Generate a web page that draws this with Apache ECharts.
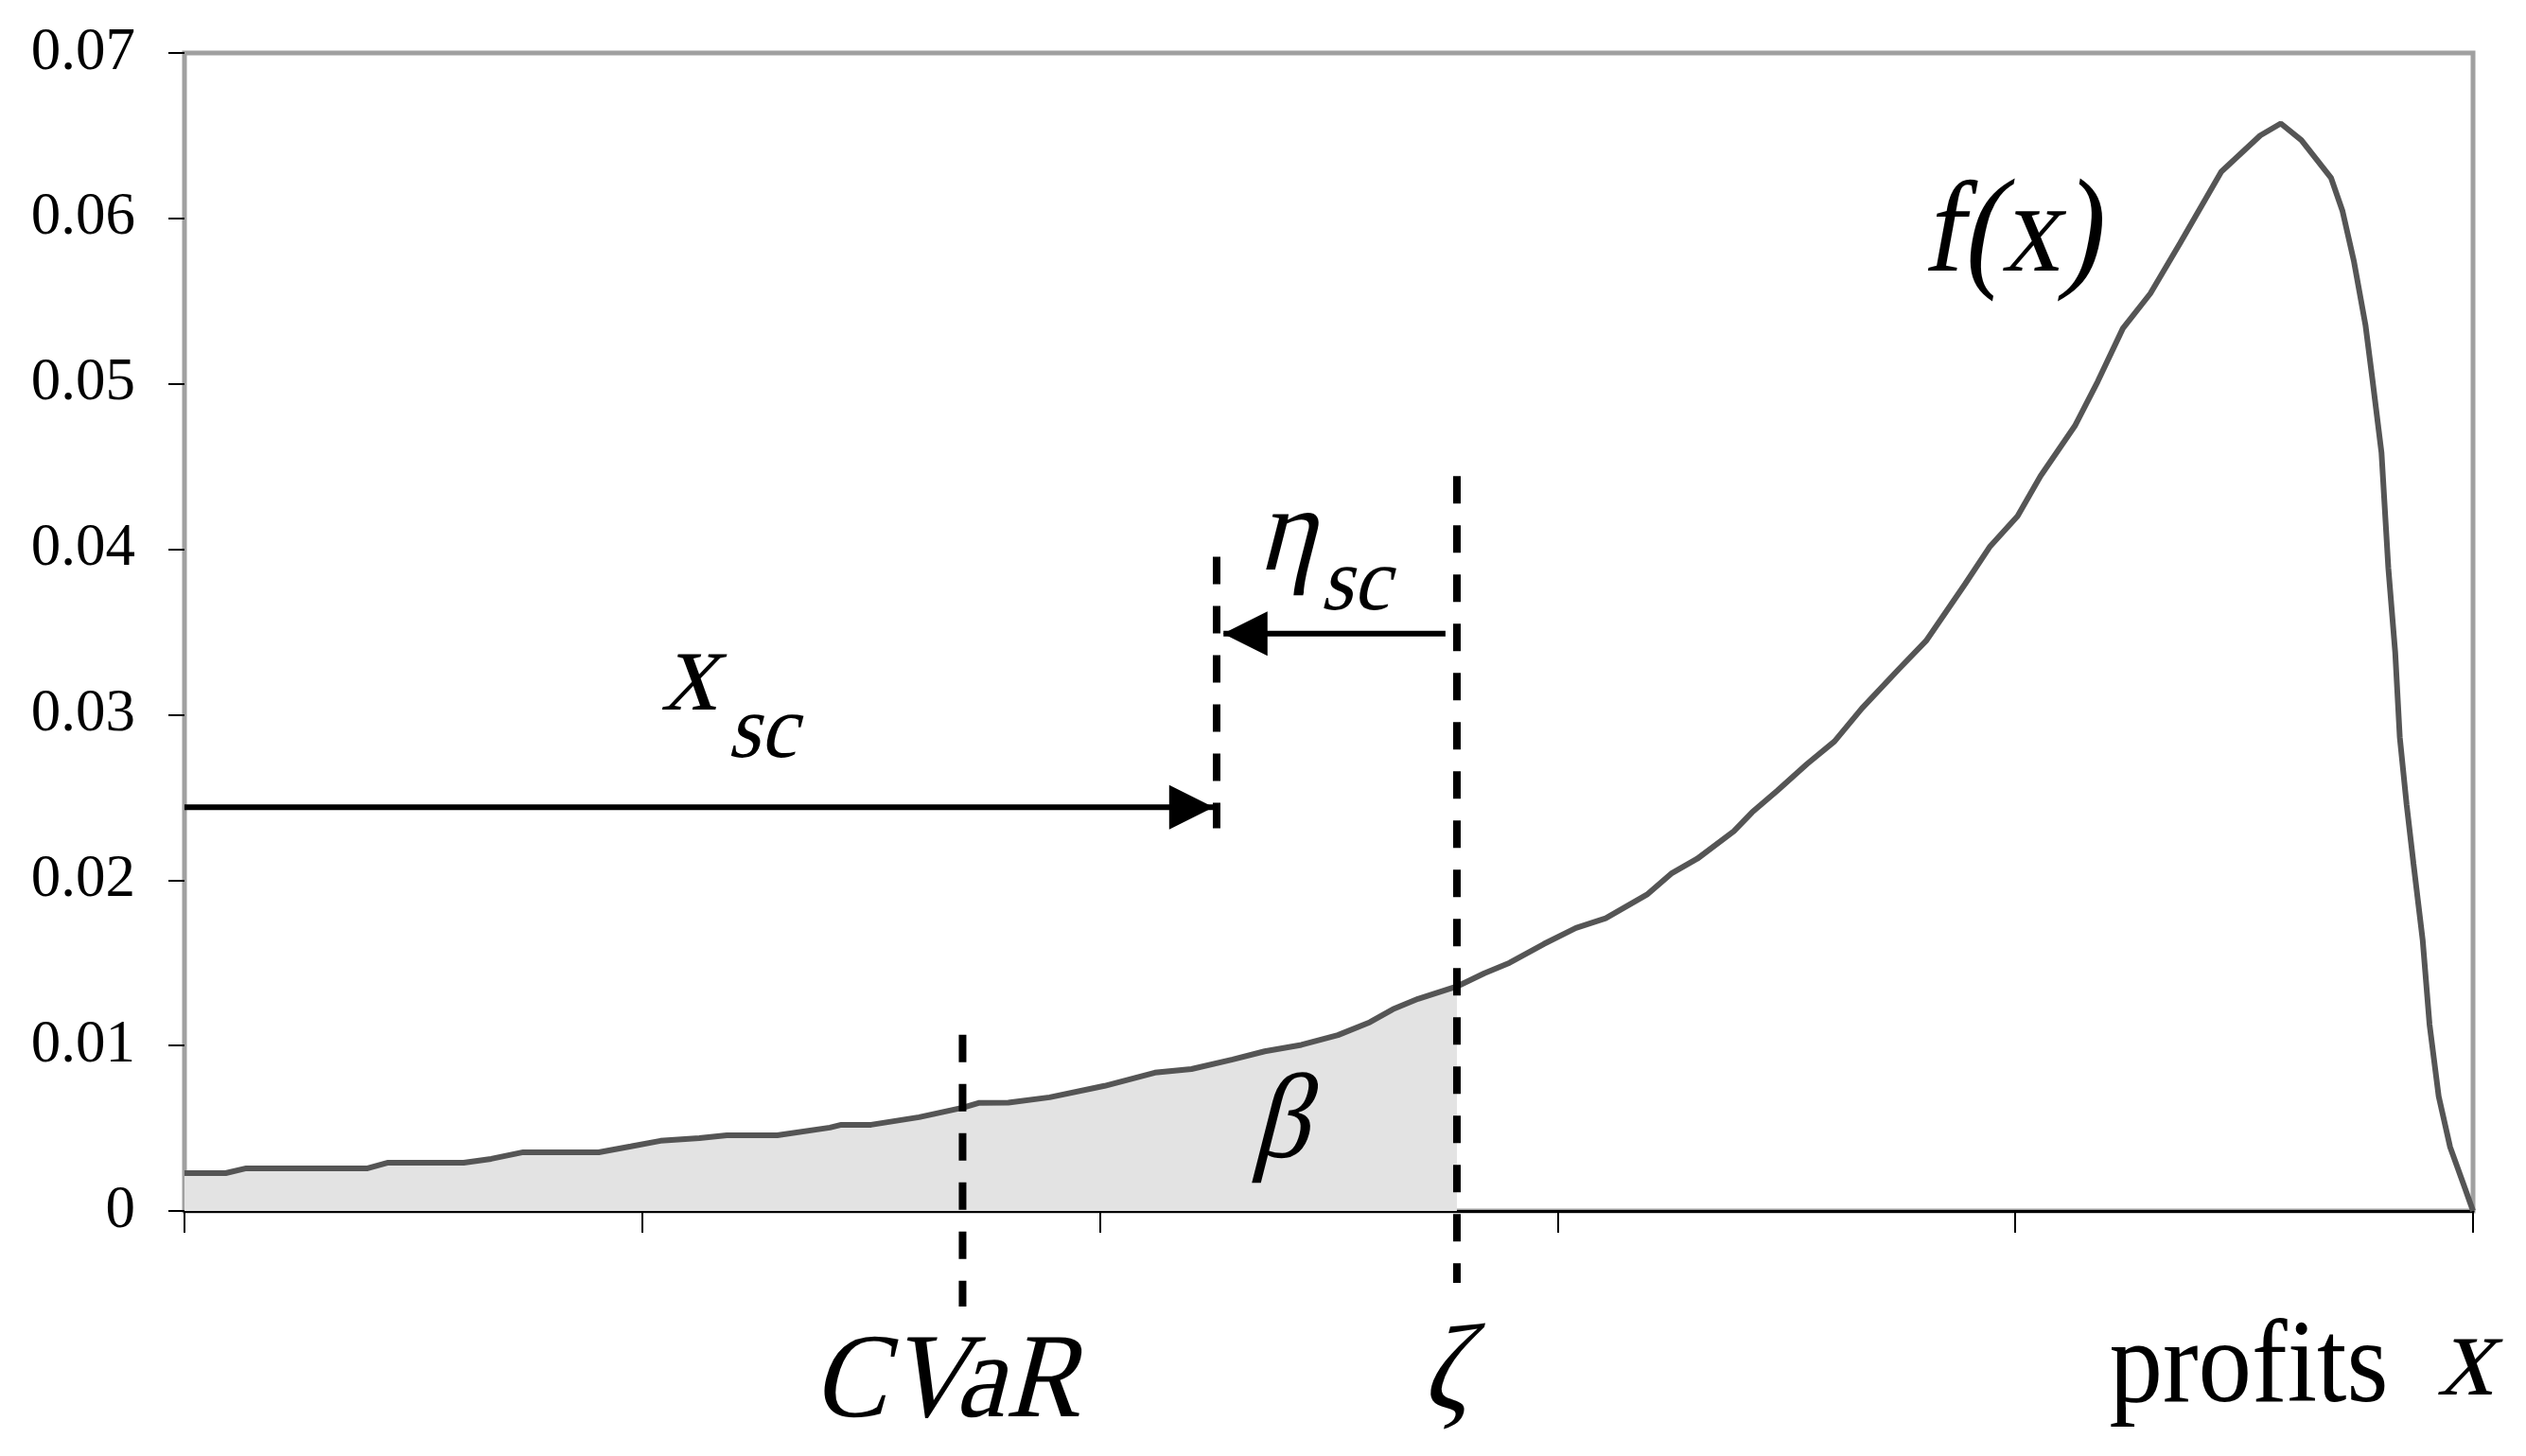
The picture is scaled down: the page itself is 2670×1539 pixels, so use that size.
<!DOCTYPE html>
<html>
<head>
<meta charset="utf-8">
<script src="https://cdn.jsdelivr.net/npm/echarts@6/dist/echarts.min.js"></script>
<style>
html, body { margin: 0; padding: 0; background: #fff; }
#chart { width: 2670px; height: 1539px; }
</style>
</head>
<body>
<div id="chart"></div>
<script>
// density f(x), x as % of the profit range
const profitX = [0, 1.8, 2.7, 8.0, 8.9, 12.2, 13.4, 14.8, 18.1, 19.5, 20.8, 22.5, 23.7, 25.9, 28.2, 28.7, 30.0, 32.1, 34.0, 34.7,
  36.0, 37.8, 40.2, 42.4, 44.0, 45.8, 47.2, 48.8, 50.4, 51.8, 52.8, 53.9, 55.6, 56.8, 57.9, 59.4, 60.8, 62.1, 63.9, 65.0,
  66.1, 67.7, 68.5, 69.6, 70.9, 72.1, 73.3, 74.9, 76.1, 77.8, 78.9, 80.1, 81.1, 82.6, 83.6, 84.7, 85.9, 87.2, 89.0, 90.7,
  91.6, 92.5, 93.8, 94.3, 94.8, 95.3, 95.6, 96.0, 96.3, 96.6, 96.8, 97.1, 97.4, 97.8, 98.1, 98.5, 99.0, 99.6, 100]
const density = [0.00229, 0.00229, 0.00258, 0.00258, 0.00292, 0.00292, 0.00315, 0.00355, 0.00355, 0.0039, 0.00424, 0.0044, 0.00458, 0.00458, 0.00504, 0.00521, 0.00521, 0.00567, 0.00624, 0.00653,
  0.00655, 0.00687, 0.00756, 0.00836, 0.00858, 0.00916, 0.00965, 0.01004, 0.01063, 0.01141, 0.01219, 0.01282, 0.01357, 0.01437, 0.0150, 0.01614, 0.01711, 0.01769, 0.01912, 0.02043,
  0.02129, 0.02295, 0.0241, 0.02541, 0.02702, 0.02839, 0.03039, 0.03274, 0.03446, 0.03789, 0.04018, 0.04201, 0.04442, 0.04745, 0.05014, 0.05335, 0.05546, 0.0585, 0.06282, 0.06501,
  0.06574, 0.06473, 0.06244, 0.06043, 0.05738, 0.05356, 0.05032, 0.04585, 0.03886, 0.03377, 0.02864, 0.02455, 0.02098, 0.01638, 0.01128, 0.00693, 0.00386, 0.00156, 0]

const yTickLabels = ['0', '0.01', '0.02', '0.03', '0.04', '0.05', '0.06', '0.07']

// marker lines: x position, top and bottom in y units
const cvarX = 34.0
const xscX = 45.1
const zetaX = 55.6
const markerX = [cvarX, xscX, zetaX]
const markerTop = [0.01065, 0.03955, 0.04442]
const markerBottom = [-0.00578, 0.02313, -0.00435]

// arrows: from -> to, at height y
const arrowFrom = [0, 55.1]
const arrowTo = [44.95, 45.4]
const arrowY = [0.0244, 0.0349]

// text annotations (anchored in data units)
const noteText = ['x', 'sc', 'η', 'sc', 'β', 'f(x)', 'CVaR', 'ζ', 'profits', 'x']
const noteKind = ['big', 'sub', 'big', 'sub', 'big', 'fx', 'big', 'big', 'word', 'big']
const noteX = [22.4, 25.5, 48.5, 51.4, 48.2, 80.1, 33.6, 55.4, 90.2, 100.0]
const noteY = [0.0322, 0.0289, 0.0407, 0.0378, 0.00515, 0.0589, -0.0105, -0.0100, -0.0096, -0.0092]

// no italic face is installed, so math letters are upright serif given a slant
const serif = '"Liberation Serif", serif'
const kindStyle = {
  big: { font: '118px ' + serif, scaleY: 1.08, skewX: -0.25 },
  sub: { font: '88px ' + serif, scaleY: 1.08, skewX: -0.25 },
  word: { font: '113px ' + serif, scaleY: 1.1, skewX: 0 },
  fx: { font: '118px ' + serif, scaleY: 1.12, skewX: -0.18 }
}
const fxRich = {
  i: { font: '122px ' + serif, fill: '#000' },
  r: { font: '128px ' + serif, fill: '#000' }
}

const curve = profitX.map((x, i) => [x, density[i]])
const tail = curve.filter(p => p[0] <= zetaX)

let chart = echarts.init(document.getElementById('chart'))

let series = [
  {
    name: 'tail',
    type: 'line',
    data: tail,
    symbol: 'none',
    lineStyle: { width: 0, opacity: 0 },
    areaStyle: { color: '#e3e3e3', opacity: 1 },
    z: 1
  },
  {
    name: 'f(x)',
    type: 'line',
    data: curve,
    symbol: 'none',
    lineStyle: { color: '#555555', width: 6 },
    z: 2
  }
]

markerX.forEach((x, i) => {
  series.push({
    type: 'line',
    data: [[x, markerTop[i]], [x, markerBottom[i]]],
    symbol: 'none',
    clip: false,
    lineStyle: { color: '#000', width: 8, type: [29, 23], cap: 'butt' },
    z: 5
  })
})

arrowFrom.forEach((x0, i) => {
  let right = arrowTo[i] > x0
  series.push({
    type: 'line',
    data: [
      { value: [x0, arrowY[i]], symbol: 'none' },
      {
        value: [arrowTo[i], arrowY[i]],
        symbol: 'triangle',
        symbolSize: [47, 47],
        symbolRotate: right ? -90 : 90,
        symbolOffset: [right ? -23 : 23, 0]
      }
    ],
    showSymbol: true,
    clip: false,
    itemStyle: { color: '#000' },
    lineStyle: { color: '#000', width: 6 },
    z: 6
  })
})

let option = {
  animation: false,
  backgroundColor: '#fff',
  grid: {
    left: 195,
    right: 56,
    top: 56,
    bottom: 259,
    show: true,
    borderColor: '#a0a0a0',
    borderWidth: 5,
    backgroundColor: 'transparent'
  },
  xAxis: {
    type: 'value',
    min: 0,
    max: 100,
    interval: 20,
    axisLine: { show: true, lineStyle: { color: '#000', width: 3 } },
    axisTick: { show: true, length: 23, lineStyle: { color: '#000', width: 2 } },
    axisLabel: { show: false },
    splitLine: { show: false }
  },
  yAxis: {
    type: 'value',
    min: 0,
    max: 0.07,
    interval: 0.01,
    axisLine: { show: false },
    axisTick: { show: true, length: 17, lineStyle: { color: '#000', width: 2 } },
    axisLabel: {
      margin: 52,
      color: '#000',
      fontFamily: 'Liberation Serif',
      fontSize: 63,
      formatter: (v) => yTickLabels[Math.round(v / 0.01)]
    },
    splitLine: { show: false }
  },
  series: series
}

chart.setOption(option)

// math labels, placed through the axes' own scale; added as echarts graphic
// elements directly so they can take a skew
const zr = chart.getZr()
noteText.forEach((t, i) => {
  let p = chart.convertToPixel({ gridIndex: 0 }, [noteX[i], noteY[i]])
  let ks = kindStyle[noteKind[i]]
  let style = {
    text: noteKind[i] === 'fx' ? '{i|f}{r|(}{i|x}{r|)}' : t,
    font: ks.font,
    fill: '#000',
    align: 'center',
    verticalAlign: 'middle'
  }
  if (noteKind[i] === 'fx') style.rich = fxRich
  zr.add(new echarts.graphic.Text({
    x: p[0],
    y: p[1],
    scaleY: ks.scaleY,
    skewX: ks.skewX,
    z: 100,
    silent: true,
    style: style
  }))
})
</script>
</body>
</html>
